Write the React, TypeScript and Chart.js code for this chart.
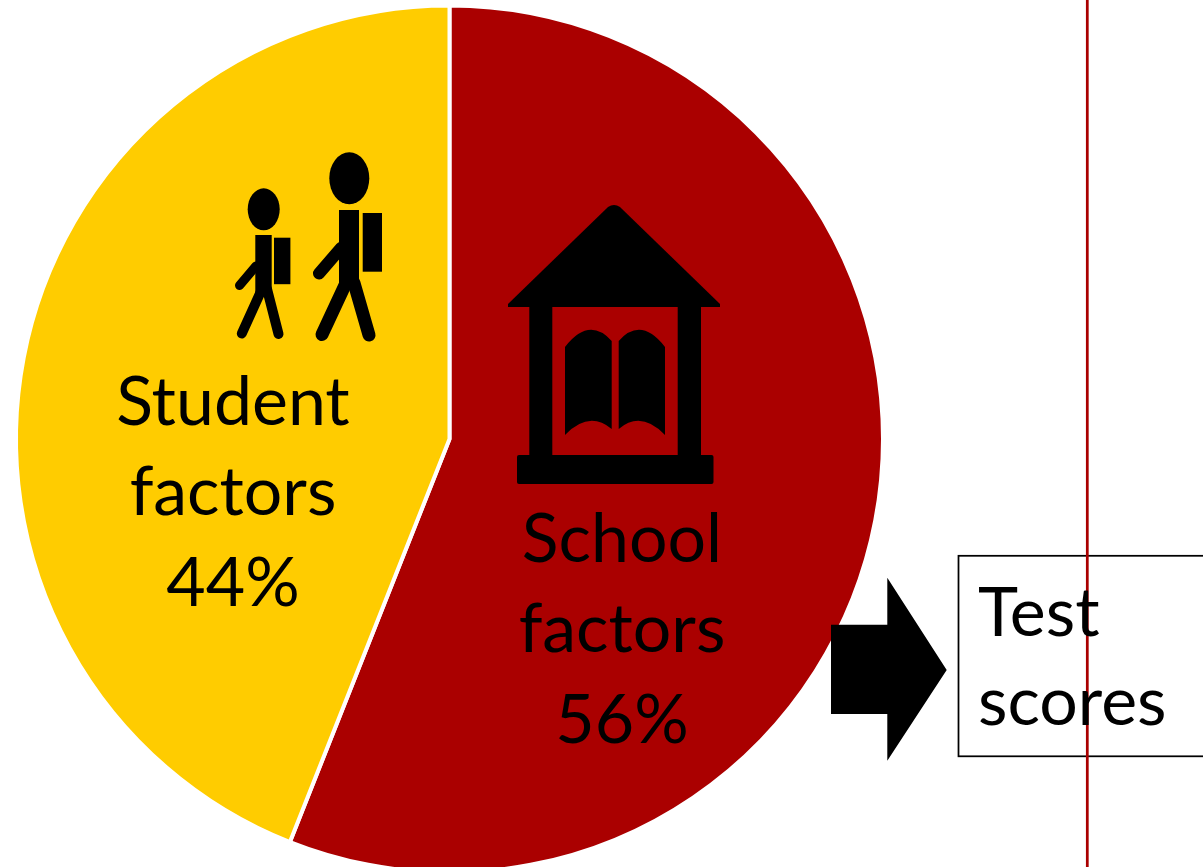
import React, { useEffect, useRef } from "react";
import { Chart, registerables } from "chart.js";

Chart.register(...registerables);

const categories = ["School factors", "Student factors"];
const shares = [56, 44];
const sliceColors = ["#AA0000", "#FFCC00"];
const outcomeLabel = ["Test", "scores"];
const FONT = '68px Lato, "Open Sans", sans-serif';

function line(ctx: CanvasRenderingContext2D, pts: number[], w: number) {
  ctx.lineWidth = w;
  ctx.lineCap = "round";
  ctx.beginPath();
  ctx.moveTo(pts[0], pts[1]);
  for (let i = 2; i < pts.length; i += 2) ctx.lineTo(pts[i], pts[i + 1]);
  ctx.stroke();
}

function poly(ctx: CanvasRenderingContext2D, pts: number[]) {
  ctx.beginPath();
  ctx.moveTo(pts[0], pts[1]);
  for (let i = 2; i < pts.length; i += 2) ctx.lineTo(pts[i], pts[i + 1]);
  ctx.closePath();
  ctx.fill();
}

function drawStudents(ctx: CanvasRenderingContext2D) {
  ctx.fillStyle = "#000";
  ctx.strokeStyle = "#000";
  // small student
  ctx.beginPath();
  ctx.ellipse(263.7, 209.3, 16, 21, 0, 0, Math.PI * 2);
  ctx.fill();
  ctx.fillRect(255.3, 235, 16.4, 58);
  ctx.fillRect(274, 237.7, 16.4, 46.5);
  line(ctx, [256, 266, 239.5, 285.5], 9);
  line(ctx, [262, 289, 241.8, 333.5], 10);
  line(ctx, [267, 289, 278.5, 334], 10);
  // tall student
  ctx.beginPath();
  ctx.ellipse(349.3, 178.3, 20, 26, 0, 0, Math.PI * 2);
  ctx.fill();
  ctx.fillRect(339, 210, 20, 77);
  ctx.fillRect(362.7, 213, 19.3, 58.7);
  line(ctx, [341, 248, 319, 273.5], 12);
  line(ctx, [346, 283, 322, 334.5], 13);
  line(ctx, [354, 283, 369, 335], 13);
}

function drawSchool(ctx: CanvasRenderingContext2D) {
  ctx.fillStyle = "#000";
  ctx.beginPath();
  ctx.moveTo(508, 307);
  ctx.lineTo(508, 304);
  ctx.lineTo(608, 207);
  ctx.quadraticCurveTo(614, 203, 620, 207);
  ctx.lineTo(720, 304);
  ctx.lineTo(720, 307);
  ctx.closePath();
  ctx.fill();
  ctx.fillRect(529.3, 306, 23, 150);
  ctx.fillRect(677.7, 306, 23.3, 150);
  ctx.beginPath();
  ctx.roundRect(517, 455, 196.5, 29, 2);
  ctx.fill();
  // open book
  ctx.beginPath();
  ctx.moveTo(565, 347);
  ctx.quadraticCurveTo(589, 316, 611.7, 341);
  ctx.lineTo(611.7, 429);
  ctx.quadraticCurveTo(589, 410, 565, 435);
  ctx.closePath();
  ctx.fill();
  ctx.beginPath();
  ctx.moveTo(618.7, 341);
  ctx.quadraticCurveTo(641, 316, 665, 347);
  ctx.lineTo(665, 435);
  ctx.quadraticCurveTo(641, 410, 618.7, 429);
  ctx.closePath();
  ctx.fill();
}

const overlay = {
  id: "overlay",
  afterDraw(chart: any) {
    const ctx: CanvasRenderingContext2D = chart.ctx;
    ctx.save();
    drawStudents(ctx);
    drawSchool(ctx);

    // arrow
    ctx.fillStyle = "#000";
    poly(ctx, [831, 624.7, 887.3, 624.7, 887.3, 577.7, 946.7, 670, 887.3, 760.7, 887.3, 714, 831, 714]);

    // outcome box
    ctx.strokeStyle = "#000";
    ctx.lineWidth = 1.75;
    ctx.lineCap = "butt";
    ctx.strokeRect(958.5, 555.8, 300, 200.5);

    // vertical red rule
    ctx.strokeStyle = "#AA0000";
    ctx.lineWidth = 2.75;
    ctx.beginPath();
    ctx.moveTo(1087.3, 0);
    ctx.lineTo(1087.3, 867);
    ctx.stroke();

    // text
    ctx.fillStyle = "#000";
    ctx.font = FONT;
    ctx.textBaseline = "alphabetic";
    ctx.textAlign = "center";
    const [s1, s2] = categories[1].split(" ");
    ctx.fillText(s1, 233, 425);
    ctx.fillText(s2, 233, 515);
    ctx.fillText(shares[1] + "%", 233, 606);
    const [c1, c2] = categories[0].split(" ");
    ctx.fillText(c1, 622, 562);
    ctx.fillText(c2, 622, 652);
    ctx.fillText(shares[0] + "%", 622, 743);
    ctx.textAlign = "left";
    ctx.fillText(outcomeLabel[0], 978, 636);
    ctx.fillText(outcomeLabel[1], 978, 725);
    ctx.restore();
  },
};

export default function App() {
  const ref = useRef<HTMLCanvasElement>(null);
  useEffect(() => {
    const chart = new Chart(ref.current!, {
      type: "pie",
      data: {
        labels: categories,
        datasets: [
          {
            data: shares,
            backgroundColor: sliceColors,
            borderColor: "#FFFFFF",
            borderWidth: 4,
          },
        ],
      },
      options: {
        responsive: false,
        animation: false,
        radius: 433.5,
        layout: { padding: { left: 18, right: 322, top: 11, bottom: -3 } },
        plugins: { legend: { display: false }, tooltip: { enabled: false } },
      },
      plugins: [overlay],
    } as any);
    return () => chart.destroy();
  }, []);
  return (
    <canvas
      ref={ref}
      width={1203}
      height={867}
      style={{ position: "fixed", left: 0, top: 0, width: 1203, height: 867, display: "block" }}
    />
  );
}
